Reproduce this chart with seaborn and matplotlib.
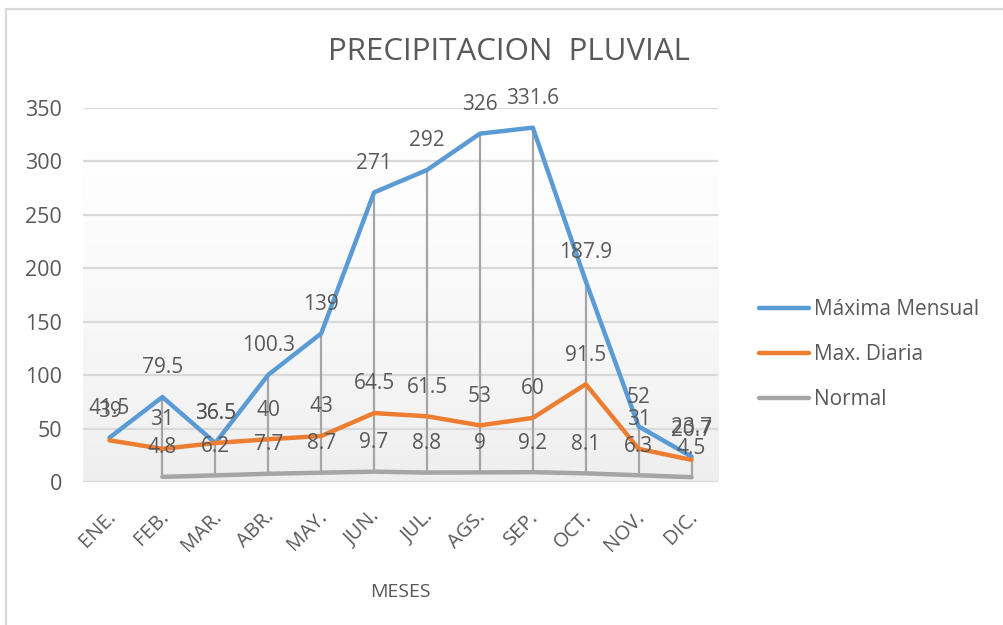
import matplotlib
matplotlib.use("Agg")
import matplotlib.pyplot as plt
import matplotlib.transforms as mtransforms
import numpy as np
import pandas as pd
import seaborn as sns
from matplotlib.colors import LinearSegmentedColormap
from matplotlib.patches import Rectangle

MESES = ["ENE.", "FEB.", "MAR.", "ABR.", "MAY.", "JUN.", "JUL.", "AGS.", "SEP.", "OCT.", "NOV.", "DIC."]
MAXIMA_MENSUAL = [41.5, 79.5, 36.5, 100.3, 139, 271, 292, 326, 331.6, 187.9, 52, 23.7]
MAX_DIARIA = [39, 31, 36.5, 40, 43, 64.5, 61.5, 53, 60, 91.5, 31, 20.7]
NORMAL = [np.nan, 4.8, 6.2, 7.7, 8.7, 9.7, 8.8, 9, 9.2, 8.1, 6.3, 4.5]
SERIES = ["Máxima Mensual", "Max. Diaria", "Normal"]
COLORS = ["#5B9BD5", "#ED7D31", "#A5A5A5"]

TEXT = "#595959"
GRID = "#D9D9D9"


def main():
    sns.set_theme(style="white")
    plt.rcParams["font.family"] = ["Open Sans", "DejaVu Sans"]

    idx = np.arange(len(MESES))
    df = pd.DataFrame({
        "mes": np.tile(idx, 3),
        "valor": MAXIMA_MENSUAL + MAX_DIARIA + NORMAL,
        "serie": np.repeat(SERIES, len(MESES)),
    })

    fig = plt.figure(figsize=(10.04, 6.25), dpi=100)
    ax = fig.add_axes([0.0827, 0.2288, 0.6325, 0.5984])

    # plot area gradient
    cmap = LinearSegmentedColormap.from_list("bg", ["#EEEEEE", "#FFFFFF"])
    grad = np.linspace(0, 1, 256).reshape(-1, 1) ** 0.8
    ax.imshow(grad, extent=[-0.5, 11.5, 0, 310], origin="lower", aspect="auto",
              cmap=cmap, vmin=0, vmax=1, zorder=0)

    for y in range(0, 351, 50):
        ax.axhline(y, color=GRID, lw=1.6, zorder=1)

    # drop lines from the highest series down to the lowest one
    hi = np.array(MAXIMA_MENSUAL)
    lo = np.array(NORMAL)
    ok = ~np.isnan(lo)
    ax.vlines(idx[ok], lo[ok], hi[ok], color="#A5A5A5", lw=1.6, zorder=2)

    sns.lineplot(data=df, x="mes", y="valor", hue="serie", hue_order=SERIES,
                 palette=COLORS, linewidth=3.2, ax=ax, zorder=3,
                 solid_capstyle="round", solid_joinstyle="round")

    for vals in (MAXIMA_MENSUAL, MAX_DIARIA, NORMAL):
        for i, v in enumerate(vals):
            if np.isnan(v):
                continue
            ax.annotate(f"{v:g}", (i, v), xytext=(0, 21), textcoords="offset points",
                        ha="center", va="center", fontsize=15, color=TEXT, zorder=4)

    ax.set_xlim(-0.5, 11.5)
    ax.set_ylim(0, 350)
    ax.set_yticks(range(0, 351, 50))
    ax.set_xticks(idx)
    ax.set_xticklabels(MESES, rotation=45, ha="right", rotation_mode="anchor")
    ax.tick_params(axis="y", length=0, labelsize=15.5, colors=TEXT, pad=15)
    ax.tick_params(axis="x", length=0, labelsize=14.5, colors=TEXT, pad=18)
    shift = mtransforms.ScaledTranslation(-4 / 100, 0, fig.dpi_scale_trans)
    for lab in ax.get_xticklabels():
        lab.set_transform(lab.get_transform() + shift)
    ax.set_xlabel("MESES", fontsize=14, color=TEXT, labelpad=20)
    ax.set_ylabel("")
    for s in ax.spines.values():
        s.set_visible(False)

    handles, labels = ax.get_legend_handles_labels()
    ax.legend(handles, labels, loc="center left", bbox_to_anchor=(1.035, 0.34),
              frameon=False, fontsize=15, labelcolor=TEXT, handlelength=2.4,
              handletextpad=0.25, labelspacing=1.15)

    fig.text(0.507, 0.917, "PRECIPITACION  PLUVIAL", ha="center", va="center",
             fontsize=22.5, color=TEXT)

    # chart border
    fig.patches.append(Rectangle((6 / 1004, -0.1), 1.2, 1 - 9 / 625 + 0.1,
                                 transform=fig.transFigure, fill=False,
                                 edgecolor=GRID, lw=1.6))

    fig.savefig("out.png", dpi=100, facecolor="white")


if __name__ == "__main__":
    main()
